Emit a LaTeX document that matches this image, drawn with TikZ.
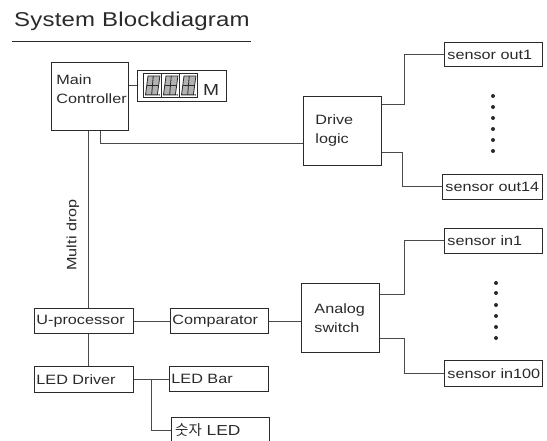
\documentclass[tikz,border=0pt]{standalone}
\usepackage{fontspec}
\setmainfont[FakeStretch=1.2]{Liberation Sans}
\newfontfamily\krfont{Noto Sans CJK KR}
\usetikzlibrary{calc}
\definecolor{ink}{HTML}{2A2A2A}
\tikzset{
  x=1pt,y=-1pt,
  conn/.style={draw=ink!85!white,line width=0.9pt},
  box/.style={draw=ink,line width=0.9pt,fill=white,inner sep=0pt,anchor=north west,text=ink,font=\fontsize{13.5}{19}\selectfont,align=left},
  dot/.style={circle,fill=ink,inner sep=0pt,minimum size=4pt},
  seg/.style={draw=ink,line width=0.8pt,fill=black!30},
  digit/.style={draw=ink,line width=0.9pt,inner sep=0pt,anchor=north west,minimum width=18pt,minimum height=24pt}
}
\newcommand{\dotcol}[3]{%
  \foreach \i/\yy in {#3}{\node[dot] (#1\i) at (#2,\yy) {};}}
\newcommand{\sevenseg}[1]{%
  \draw[seg] ($(#1.south west)+(2.5,-3)$) -- ($(#1.north west)+(5,3)$) -- ($(#1.north east)+(-2,3)$) -- ($(#1.south east)+(-4.5,-3)$) -- cycle;
  \draw[ink,line width=0.8pt] ($(#1.west)+(3.8,0)$) -- ($(#1.east)+(-3.2,0)$);
  \draw[ink,line width=0.8pt] ($(#1.north)+(0.8,3)$) -- ($(#1.south)+(-0.8,-3)$);
  \fill[ink] ($(#1.south east)+(-2.8,-3)$) circle (0.8pt);}
\begin{document}
\begin{tikzpicture}
\useasboundingbox (0,0) rectangle (547,441);
\fill[white] (0,0) rectangle (547,441);
% title
\node[anchor=base west,inner sep=0pt,text=ink,font=\fontsize{20}{22}\selectfont\addfontfeatures{LetterSpace=1}] (title) at (14,27) {System Blockdiagram};
\coordinate (ruleL) at (12,41);
\coordinate (ruleR) at (251,41);
\draw[ink,line width=0.9pt] (ruleL) -- (ruleR);
% boxes
\node[box,minimum width=77pt,minimum height=68pt,text width=77pt] (main) at (51,62) {\hspace{5pt}Main\\\hspace{5pt}Controller\\[-5pt]\mbox{}};
\node[box,minimum width=89pt,minimum height=31pt] (disp) at (137,70) {};
\node[digit] (d1) at (143,73) {};
\node[digit] (d2) at (161,73) {};
\node[digit] (d3) at (179,73) {};
\sevenseg{d1}\sevenseg{d2}\sevenseg{d3}
\node[anchor=base west,inner sep=0pt,text=ink,font=\fontsize{16}{16}\selectfont] (mlabel) at (203,96) {M};
\node[box,minimum width=78pt,minimum height=69pt,text width=78pt] (drive) at (303,96) {\hspace{12pt}Drive\\\hspace{12pt}logic};
\node[box,minimum width=98pt,minimum height=24pt,text width=98pt] (so1) at (444,42) {\hspace{3pt}sensor out1};
\node[box,minimum width=100pt,minimum height=25pt,text width=100pt] (so14) at (442,174) {\hspace{3pt}sensor out14};
\node[box,minimum width=78pt,minimum height=69pt,text width=78pt] (analog) at (301,283) {\hspace{13pt}Analog\\\hspace{13pt}switch};
\node[box,minimum width=98pt,minimum height=25pt,text width=98pt] (si1) at (444,228) {\hspace{3pt}sensor in1};
\node[box,minimum width=98pt,minimum height=26pt,text width=98pt] (si100) at (444,360) {\hspace{3pt}sensor in100};
\node[box,minimum width=99pt,minimum height=25pt,text width=99pt] (up) at (34,308) {\hspace{2pt}U-processor};
\node[box,minimum width=98pt,minimum height=25pt,text width=98pt] (comp) at (170,308) {\hspace{2pt}Comparator};
\node[box,minimum width=99pt,minimum height=26pt,text width=99pt] (drv) at (34,366) {\hspace{2pt}LED Driver};
\node[box,minimum width=99pt,minimum height=25pt,text width=99pt] (bar) at (169,366) {\hspace{2pt}LED Bar};
% Clipped box: open at the picture's lower edge
\node[inner sep=0pt,anchor=west,text=ink,font=\fontsize{14.5}{14.5}\selectfont] (num) at (175,430) {{\krfont 숫자} LED};
\coordinate (numTL) at (171,417);
\coordinate (numTR) at (269,417);
\coordinate (numBL) at (171,441);
\coordinate (numBR) at (269,441);
\draw[ink,line width=0.9pt] (numBL) -- (numTL) -- (numTR) -- (numBR);
\node[rotate=90,inner sep=0pt,text=ink,font=\fontsize{13.5}{14}\selectfont] (multi) at (73,235) {Multi drop};
% connectors
\draw[conn] (main.east |- disp.west) -- (disp.west);
\draw[conn] ($(main.south west)+(37,0)$) -- ($(up.north west)+(54,0)$);
\draw[conn] ($(main.south west)+(49,0)$) |- ($(drive.west)+(0,13)$);
\draw[conn] ($(drive.north east)+(0,8)$) -| ($(so1.west)+(-40,0)$) -- (so1.west);
\draw[conn] ($(drive.south east)+(0,-13)$) -| ($(so14.west)+(-40,0)$) -- (so14.west);
\draw[conn] ($(analog.north east)+(0,11)$) -| ($(si1.west)+(-40,0)$) -- (si1.west);
\draw[conn] ($(analog.south east)+(0,-14)$) -| ($(si100.west)+(-40,0)$) -- (si100.west);
\draw[conn] (up.east) -- (comp.west);
\draw[conn] (comp.east) -- (comp.east -| analog.west);
\draw[conn] ($(up.south west)+(54,0)$) -- ($(drv.north west)+(54,0)$);
\draw[conn] (drv.east) -- (drv.east -| bar.west);
\coordinate (tee) at (151,379);
\draw[conn] (tee) |- (numTL |- num.west);
% dots
\dotcol{a}{493}{1/96,2/107,3/118,4/129,5/140,6/151}
\dotcol{b}{496}{1/283,2/293,3/305,4/316,5/327,6/338}
\end{tikzpicture}
\end{document}
